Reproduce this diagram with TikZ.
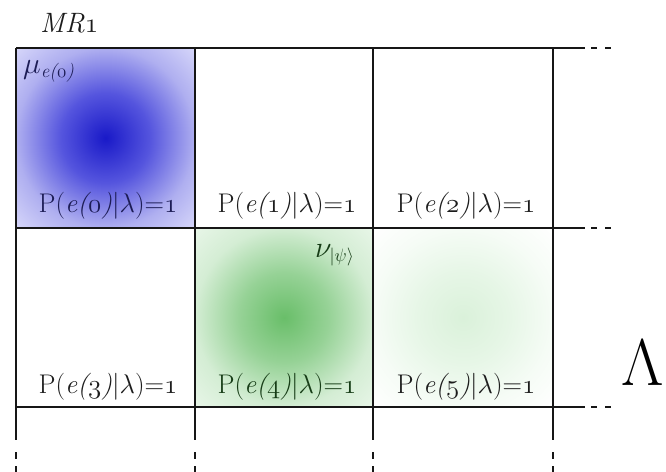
\RequirePackage{fix-cm}
\documentclass[tikz,border=0pt]{standalone}
\usepackage{amsmath}
\usetikzlibrary{calc}
\definecolor{gridc}{RGB}{22,22,22}
\definecolor{txtc}{RGB}{28,28,28}
\definecolor{navyc}{RGB}{28,28,85}
\definecolor{dgreen}{RGB}{22,60,22}
\definecolor{bcA}{RGB}{25,25,200}
\definecolor{bcB}{RGB}{85,85,222}
\definecolor{bcC}{RGB}{175,175,240}
\definecolor{bcD}{RGB}{215,215,250}
\definecolor{gcA}{RGB}{105,190,105}
\definecolor{gcB}{RGB}{150,210,150}
\definecolor{gcC}{RGB}{212,237,212}
\definecolor{gcD}{RGB}{232,246,232}
\definecolor{lcA}{RGB}{218,241,218}
\definecolor{lcB}{RGB}{230,246,230}
\definecolor{lcC}{RGB}{246,252,246}
\definecolor{lcD}{RGB}{255,255,255}
\pgfdeclareradialshading{blueglow}{\pgfpoint{0bp}{0bp}}{color(0bp)=(bcA); color(12.5bp)=(bcB); color(25bp)=(bcC); color(35.5bp)=(bcD); color(50bp)=(bcD)}
\pgfdeclareradialshading{greenglow}{\pgfpoint{0bp}{0bp}}{color(0bp)=(gcA); color(12.5bp)=(gcB); color(25bp)=(gcC); color(35.5bp)=(gcD); color(50bp)=(gcD)}
\pgfdeclareradialshading{paleglow}{\pgfpoint{0bp}{0bp}}{color(0bp)=(lcA); color(12.5bp)=(lcB); color(25bp)=(lcC); color(35.5bp)=(lcD); color(50bp)=(lcD)}
\newcommand{\osn}[1]{{\usefont{OML}{cmm}{m}{it}#1}}
\newcommand{\plab}[1]{P(\textit{e(\osn{#1})}$|\lambda$)=\osn{1}}
\tikzset{
  gridline/.style={draw=gridc, line width=2.8pt},
  dotline/.style={draw=gridc, line width=2.8pt},
  celllabel/.style={anchor=base, inner sep=0pt, text=txtc, font=\fontsize{27}{31}\selectfont},
}
\begin{document}
\begin{tikzpicture}[x=1pt,y=-1pt]
\useasboundingbox (0,0) rectangle (666,471);
% grid coordinates
\foreach \i/\x in {0/16,1/195,2/373,3/553}{
  \foreach \j/\y in {0/48,1/228,2/407}{
    \coordinate (g\i\j) at (\x,\y);
  }
}
% shaded cells
\shade[shading=blueglow] (g00) rectangle (g11);
\shade[shading=greenglow] (g11) rectangle (g22);
\shade[shading=paleglow] (g21) rectangle (g32);
% horizontal lines
\foreach \j in {0,1,2}{
  \coordinate (he\j) at ($(g3\j)+(32,0)$);
  \coordinate (da\j) at ($(g3\j)+(38,0)$);
  \coordinate (db\j) at ($(g3\j)+(44,0)$);
  \coordinate (dc\j) at ($(g3\j)+(52,0)$);
  \coordinate (dd\j) at ($(g3\j)+(58,0)$);
  \draw[gridline] (g0\j) -- (he\j);
  \draw[dotline] (da\j) -- (db\j);
  \draw[dotline] (dc\j) -- (dd\j);
}
% vertical lines
\foreach \i in {0,1,2,3}{
  \coordinate (ve\i) at ($(g\i2)+(0,33)$);
  \coordinate (va\i) at ($(g\i2)+(0,45)$);
  \coordinate (vb\i) at ($(g\i2)+(0,52)$);
  \coordinate (vc\i) at ($(g\i2)+(0,59)$);
  \coordinate (vd\i) at ($(g\i2)+(0,66)$);
  \draw[gridline] (g\i0) -- (ve\i);
  \draw[dotline] (va\i) -- (vb\i);
  \draw[dotline] (vc\i) -- (vd\i);
}
% labels
\node[celllabel, text=navyc] (p0) at (108,212) {\plab{0}};
\node[celllabel] (p1) at (287,212) {\plab{1}};
\node[celllabel] (p2) at (466,212) {\plab{2}};
\node[celllabel] (p3) at (108,393) {\plab{3}};
\node[celllabel, text=dgreen] (p4) at (287,393) {\plab{4}};
\node[celllabel] (p5) at (466,393) {\plab{5}};
\node[anchor=base west, inner sep=0pt, text=txtc, font=\fontsize{28}{31}\selectfont\itshape] (mr) at (40,32) {MR\osn{1}};
\node[anchor=base west, inner sep=0pt, text=navyc, font=\fontsize{30}{34}\selectfont] (mu) at (23,73) {$\mu_{\text{\fontsize{19}{21}\selectfont\itshape e(\osn{0})}}$};
\node[anchor=base west, inner sep=0pt, text=dgreen, font=\fontsize{30}{34}\selectfont] (nu) at (315,257) {$\nu_{\text{\fontsize{18}{20}\selectfont$|\psi\rangle$}}$};
\node[anchor=base west, inner sep=0pt, text=black, font=\fontsize{66}{72}\selectfont] (lam) at (621,385) {$\Lambda$};
\end{tikzpicture}
\end{document}
